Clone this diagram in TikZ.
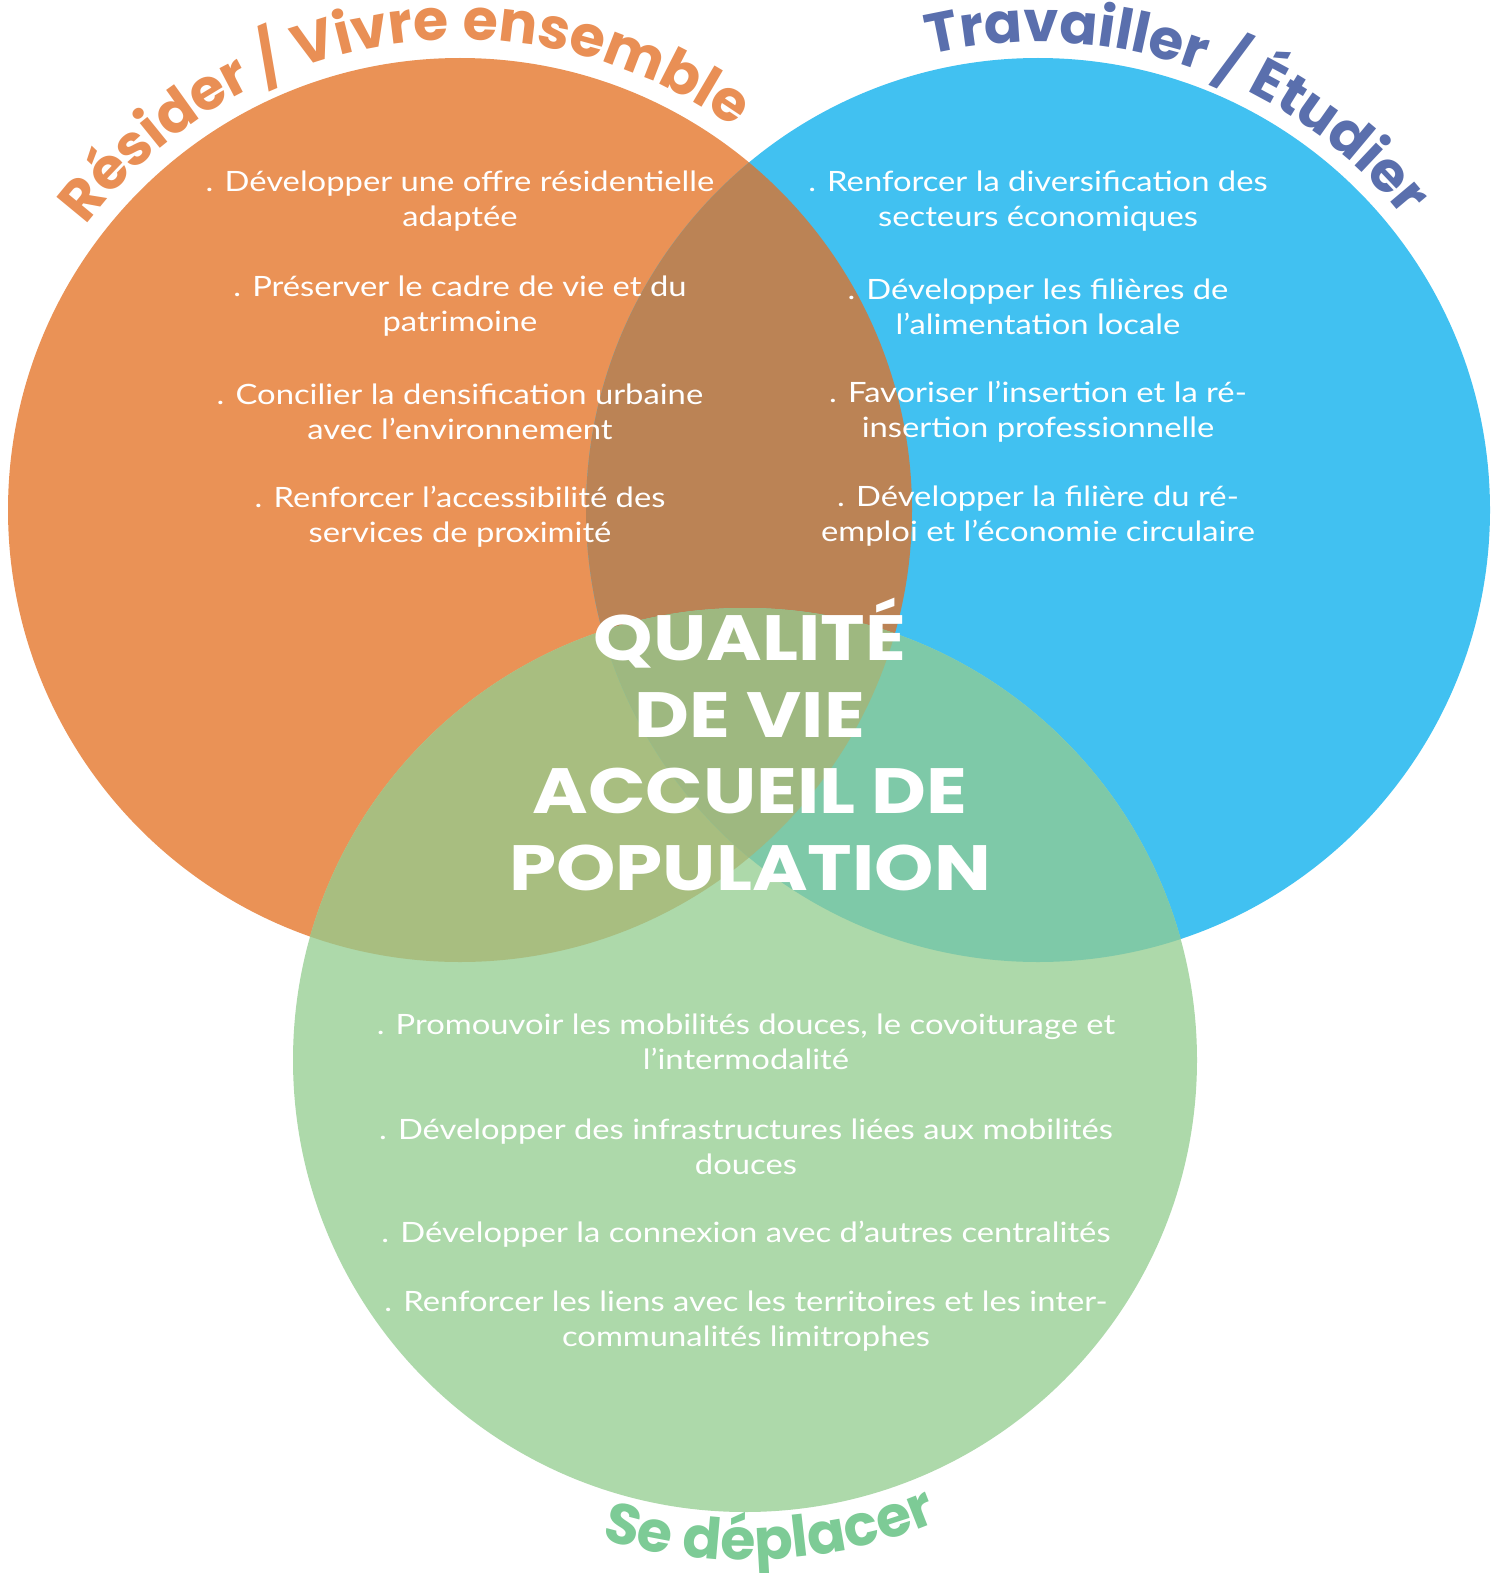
\documentclass[tikz,border=0pt]{standalone}
\usepackage{fontspec}
\setmainfont{Lato}[FakeStretch=1.17]
\newfontfamily\titlefont{Poppins}
\newfontfamily\bigfont{Poppins}[FakeStretch=1.18]
\usetikzlibrary{decorations.text}
\definecolor{cO}{HTML}{EA9256}
\definecolor{cB}{HTML}{41C1F1}
\definecolor{cG}{HTML}{ADD9AA}
\definecolor{cOB}{HTML}{BB8355}
\definecolor{cOG}{HTML}{A8BE80}
\definecolor{cBG}{HTML}{7EC9A8}
\definecolor{cOBG}{HTML}{9EB880}
\definecolor{tO}{HTML}{E98F55}
\definecolor{tB}{HTML}{5A6FAD}
\definecolor{tG}{HTML}{7DCB96}
\begin{document}
\begin{tikzpicture}[x=1pt,y=1pt,
  body/.style={text=white, font=\fontsize{28}{35}\selectfont, align=center, inner sep=0pt},
  big/.style={text=white, font=\bigfont\bfseries\fontsize{64}{77}\selectfont, inner sep=0pt, anchor=base}]
\useasboundingbox (0,0) rectangle (1502,-1573);
\fill[white] (0,0) rectangle (1502,-1573);
\def\R{452}
\coordinate (O) at (460,-510);
\coordinate (B) at (1038,-510);
\coordinate (G) at (745,-1060);
% circles
\fill[cO] (O) circle[radius=\R];
\fill[cB] (B) circle[radius=\R];
\fill[cG] (G) circle[radius=\R];
% overlaps
\begin{scope}\clip (O) circle[radius=\R]; \fill[cOB] (B) circle[radius=\R]; \end{scope}
\begin{scope}\clip (O) circle[radius=\R]; \fill[cOG] (G) circle[radius=\R]; \end{scope}
\begin{scope}\clip (B) circle[radius=\R]; \fill[cBG] (G) circle[radius=\R]; \end{scope}
\begin{scope}\clip (O) circle[radius=\R]; \clip (B) circle[radius=\R]; \fill[cOBG] (G) circle[radius=\R]; \end{scope}
% curved titles
\path[decorate, decoration={text along path, text color=tO, text align=center,
  text={|\titlefont\bfseries\fontsize{57}{57}\selectfont|Résider / Vivre ensemble}}]
  ([shift={(158.5:470)}]O) arc[start angle=158.5, end angle=38.5, radius=470];
\path[decorate, decoration={text along path, text color=tB, text align=center,
  text={|\titlefont\bfseries\fontsize{56}{56}\selectfont|Travailler / Étudier}}]
  ([shift={(131:468)}]B) arc[start angle=131, end angle=11, radius=468];
\path[decorate, decoration={text along path, text color=tG, text align=center,
  text={|\titlefont\bfseries\fontsize{57}{57}\selectfont|Se déplacer}}]
  ([shift={(213:500)}]G) arc[start angle=213, end angle=333, radius=500];
% orange items
\node[body] (o1) at (460,-201.5) {. Développer une offre résidentielle\\adaptée};
\node[body] (o2) at (460,-306.5) {. Préserver le cadre de vie et du\\patrimoine};
\node[body] (o3) at (460,-411.5) {. Concilier la densification urbaine\\avec l’environnement};
\node[body] (o4) at (460,-516.5) {. Renforcer l’accessibilité des\\services de proximité};
% blue items
\node[body] (b1) at (1038,-201.5) {. Renforcer la diversification des\\secteurs économiques};
\node[body] (b2) at (1038,-306.5) {. Développer les filières de\\l’alimentation locale};
\node[body] (b3) at (1038,-411.5) {. Favoriser l’insertion et la ré-\\insertion professionnelle};
\node[body] (b4) at (1038,-516.5) {. Développer la filière du ré-\\emploi et l’économie circulaire};
% green items
\node[body] (g1) at (746,-1041.5) {. Promouvoir les mobilités douces, le covoiturage et\\l’intermodalité};
\node[body] (g2) at (746,-1146.5) {. Développer des infrastructures liées aux mobilités\\douces};
\node[body] (g3) at (746,-1234) {. Développer la connexion avec d’autres centralités};
\node[body] (g4) at (746,-1321.5) {. Renforcer les liens avec les territoires et les inter-\\communalités limitrophes};
% centre
\node[big] (q1) at (750,-660) {QUALITÉ};
\node[big] (q2) at (750,-737) {DE VIE};
\node[big] (q3) at (750,-813) {ACCUEIL DE};
\node[big] (q4) at (750,-890) {POPULATION};
\end{tikzpicture}
\end{document}
